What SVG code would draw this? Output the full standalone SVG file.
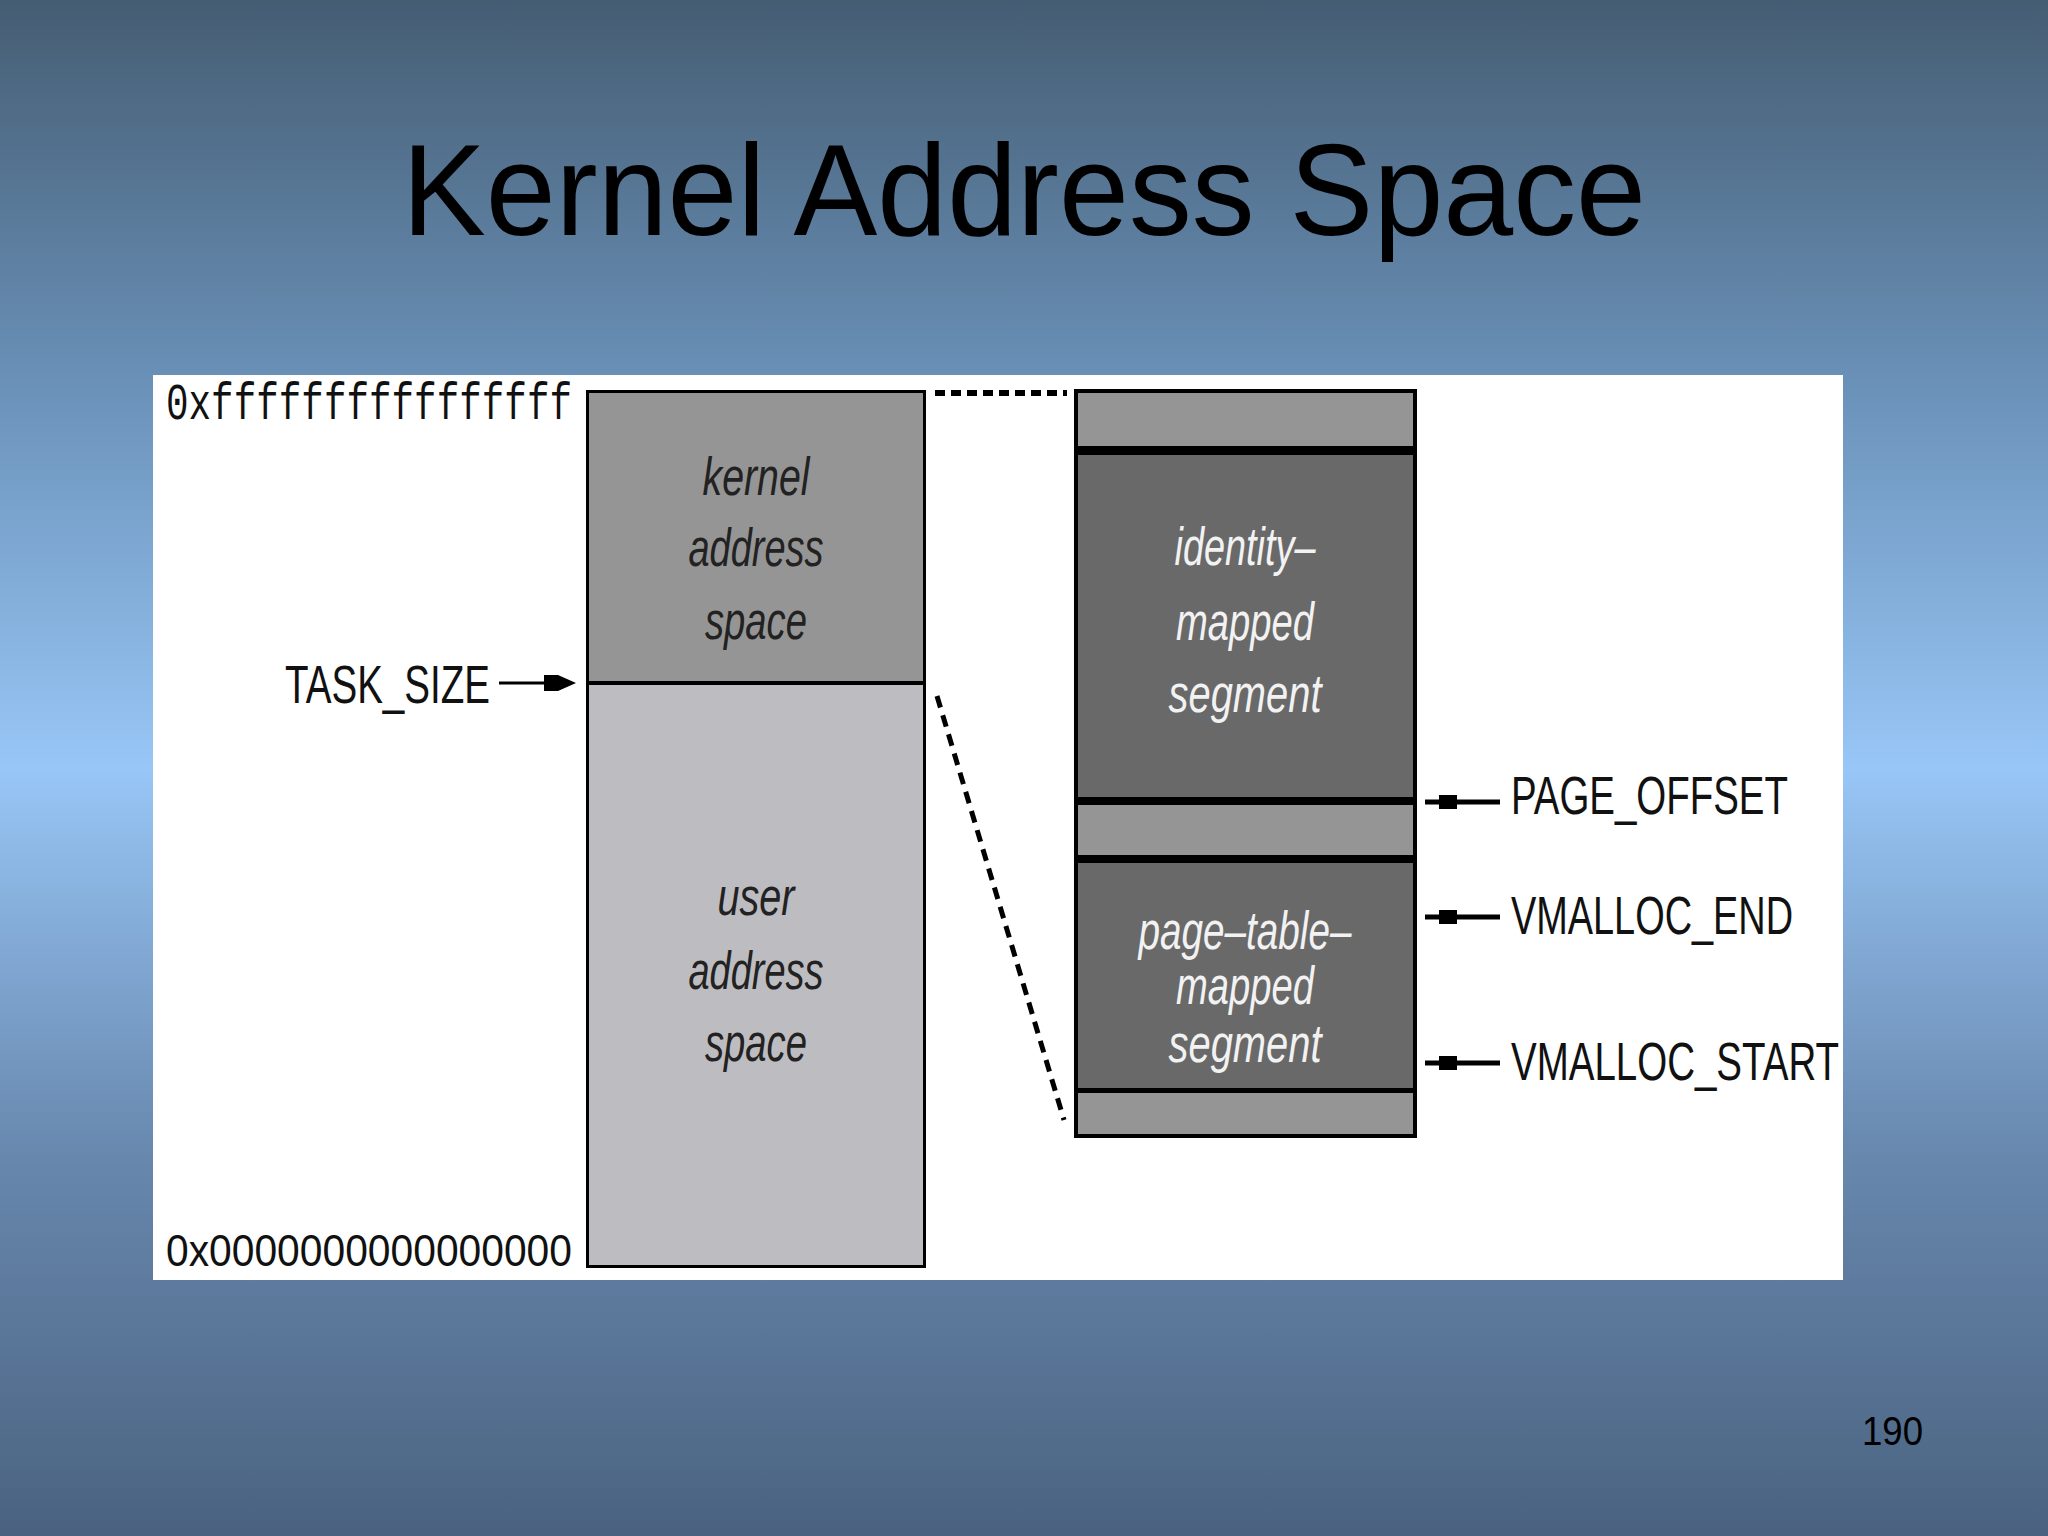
<svg xmlns="http://www.w3.org/2000/svg" width="2048" height="1536" viewBox="0 0 2048 1536">
  <defs>
    <linearGradient id="bg" x1="0" y1="0" x2="0" y2="1">
      <stop offset="0" stop-color="#455d73"/>
      <stop offset="0.25" stop-color="#6a91b8"/>
      <stop offset="0.5" stop-color="#98c6f6"/>
      <stop offset="0.75" stop-color="#6888ae"/>
      <stop offset="1" stop-color="#4a6280"/>
    </linearGradient>
    <style>
      .title { font-family: "Liberation Sans", Arial, sans-serif; font-size: 130px; fill: #000; }
      .num { font-family: "Liberation Sans", Arial, sans-serif; font-size: 40px; fill: #000; }
      .mono { font-family: "Liberation Mono", "Courier New", monospace; font-size: 52px; fill: #111; }
      .digits { font-family: "Liberation Sans", Arial, sans-serif; font-size: 44px; fill: #111; }
      .lbl { font-family: "Liberation Sans", Arial, sans-serif; font-size: 53px; fill: #111; }
      .it { font-family: "Liberation Sans", Arial, sans-serif; font-size: 54px; font-style: italic; text-anchor: middle; }
      .dk { fill: #222; }
      .wt { fill: #f2f2f2; }
      .outline { fill: none; stroke: #000; }
      .dash { fill: none; stroke: #000; }
      .arr { stroke: #000; stroke-width: 5; fill: none; }
    </style>
  </defs>

  <rect x="0" y="0" width="2048" height="1536" fill="url(#bg)"/>
  <text class="title" x="402" y="235" textLength="1244" lengthAdjust="spacingAndGlyphs">Kernel Address Space</text>
  <text class="num" x="1862" y="1445" textLength="61" lengthAdjust="spacingAndGlyphs">190</text>

  <rect id="panel" x="153" y="375" width="1690" height="905" fill="#ffffff"/>

  <g id="addr-labels">
    <text class="mono" x="166" y="419" textLength="406" lengthAdjust="spacingAndGlyphs">0xffffffffffffffff</text>
    <text class="digits" x="166" y="1266" textLength="406" lengthAdjust="spacingAndGlyphs">0x0000000000000000</text>
  </g>

  <g id="left-column">
    <g id="kernel-space">
      <rect x="588" y="391" width="336" height="292" fill="#959595"/>
      <text class="it dk" x="756" y="495" textLength="107" lengthAdjust="spacingAndGlyphs">kernel</text>
      <text class="it dk" x="756" y="566" textLength="135" lengthAdjust="spacingAndGlyphs">address</text>
      <text class="it dk" x="756" y="639" textLength="102" lengthAdjust="spacingAndGlyphs">space</text>
    </g>
    <g id="user-space">
      <rect x="588" y="683" width="336" height="583" fill="#bdbcc0"/>
      <text class="it dk" x="756" y="915" textLength="77" lengthAdjust="spacingAndGlyphs">user</text>
      <text class="it dk" x="756" y="989" textLength="135" lengthAdjust="spacingAndGlyphs">address</text>
      <text class="it dk" x="756" y="1061" textLength="102" lengthAdjust="spacingAndGlyphs">space</text>
    </g>
    <line x1="588" y1="683" x2="924" y2="683" stroke="#000" stroke-width="4"/>
    <rect class="outline" x="587.5" y="391.5" width="337" height="875" stroke-width="3"/>
  </g>

  <g id="right-column">
    <rect x="1076" y="391" width="339" height="55" fill="#959595"/>
    <rect x="1076" y="446" width="339" height="9" fill="#000"/>
    <g id="identity-mapped-segment">
      <rect x="1076" y="455" width="339" height="342" fill="#696969"/>
      <text class="it wt" x="1245" y="565" textLength="141" lengthAdjust="spacingAndGlyphs">identity–</text>
      <text class="it wt" x="1245" y="640" textLength="138" lengthAdjust="spacingAndGlyphs">mapped</text>
      <text class="it wt" x="1245" y="712" textLength="153" lengthAdjust="spacingAndGlyphs">segment</text>
    </g>
    <rect x="1076" y="797" width="339" height="8" fill="#000"/>
    <rect x="1076" y="805" width="339" height="50" fill="#959595"/>
    <rect x="1076" y="855" width="339" height="8" fill="#000"/>
    <g id="page-table-mapped-segment">
      <rect x="1076" y="863" width="339" height="225" fill="#696969"/>
      <text class="it wt" x="1245" y="949" textLength="213" lengthAdjust="spacingAndGlyphs">page–table–</text>
      <text class="it wt" x="1245" y="1004" textLength="138" lengthAdjust="spacingAndGlyphs">mapped</text>
      <text class="it wt" x="1245" y="1062" textLength="153" lengthAdjust="spacingAndGlyphs">segment</text>
    </g>
    <rect x="1076" y="1088" width="339" height="5" fill="#000"/>
    <rect x="1076" y="1093" width="339" height="43" fill="#959595"/>
    <rect class="outline" x="1076" y="391" width="339" height="745" stroke-width="4"/>
  </g>

  <g id="task-size">
    <text class="lbl" x="285" y="703" textLength="205" lengthAdjust="spacingAndGlyphs">TASK_SIZE</text>
  </g>
  <g id="page-offset">
    <text class="lbl" x="1511" y="814" textLength="277" lengthAdjust="spacingAndGlyphs">PAGE_OFFSET</text>
  </g>
  <g id="vmalloc-end">
    <text class="lbl" x="1511" y="934" textLength="282" lengthAdjust="spacingAndGlyphs">VMALLOC_END</text>
  </g>
  <g id="vmalloc-start">
    <text class="lbl" x="1511" y="1080" textLength="328" lengthAdjust="spacingAndGlyphs">VMALLOC_START</text>
  </g>

  <g id="connectors">
    <line class="dash" x1="935" y1="393" x2="1067" y2="393" stroke-width="6" stroke-dasharray="10 6"/>
    <line class="dash" x1="937" y1="696" x2="1064" y2="1120" stroke-width="5" stroke-dasharray="12 8"/>
    <!-- TASK_SIZE arrow -->
    <line x1="499" y1="683" x2="560" y2="683" stroke="#000" stroke-width="3"/>
    <polygon points="544,675 558,675 576,683 558,691 544,691" fill="#000"/>
    <!-- PAGE_OFFSET arrow -->
    <line class="arr" x1="1425" y1="802" x2="1500" y2="802"/>
    <rect x="1439" y="795" width="18" height="14" fill="#000"/>
    <!-- VMALLOC_END arrow -->
    <line class="arr" x1="1425" y1="917" x2="1500" y2="917"/>
    <rect x="1439" y="910" width="18" height="14" fill="#000"/>
    <!-- VMALLOC_START arrow -->
    <line class="arr" x1="1425" y1="1063" x2="1500" y2="1063"/>
    <rect x="1439" y="1056" width="18" height="14" fill="#000"/>
  </g>
</svg>
